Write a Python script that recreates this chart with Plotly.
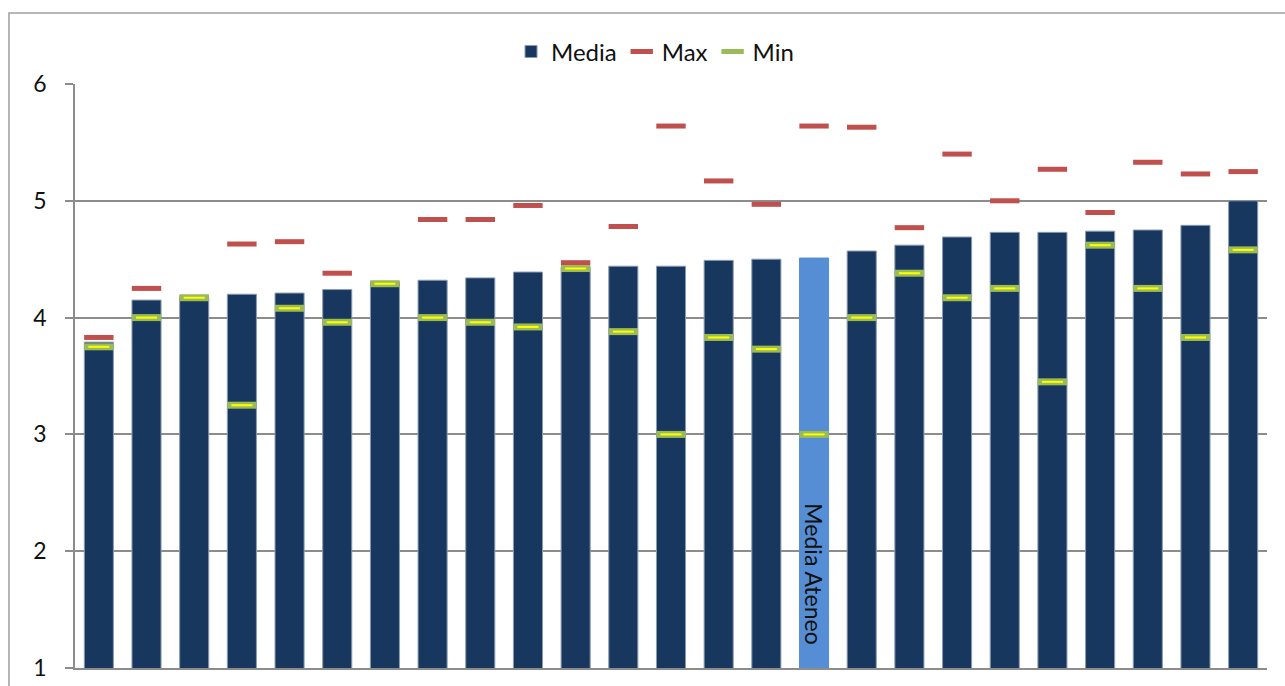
import plotly.graph_objects as go

categories = [f"C{i}" for i in range(1, 26)]
media = [3.79, 4.15, 4.17, 4.20, 4.21, 4.24, 4.29, 4.32, 4.34, 4.39, 4.43, 4.44, 4.44,
         4.49, 4.50, 4.51, 4.57, 4.62, 4.69, 4.73, 4.73, 4.74, 4.75, 4.79, 5.00]
max_vals = [3.83, 4.25, 4.17, 4.63, 4.65, 4.38, 4.29, 4.84, 4.84, 4.96, 4.47, 4.78, 5.64,
            5.17, 4.97, 5.64, 5.63, 4.77, 5.40, 5.00, 5.27, 4.90, 5.33, 5.23, 5.25]
min_vals = [3.75, 4.00, 4.17, 3.25, 4.08, 3.96, 4.29, 4.00, 3.96, 3.92, 4.42, 3.88, 3.00,
            3.83, 3.73, 3.00, 4.00, 4.38, 4.17, 4.25, 3.45, 4.62, 4.25, 3.83, 4.58]
highlight_index = 15
highlight_label = "Media Ateneo"
y_ticks = [1, 2, 3, 4, 5, 6]

bar_colors = ["#17375E"] * len(categories)
bar_colors[highlight_index] = "#558ED5"
line_colors = ["#8A9BB2"] * len(categories)
line_colors[highlight_index] = "#558ED5"

FONT = "Lato"
GRID = "#8C8C8C"

fig = go.Figure()
fig.add_trace(go.Bar(
    x=categories, y=media, name="Media",
    marker=dict(color=bar_colors, line=dict(color=line_colors, width=1)),
))
fig.add_trace(go.Scatter(
    x=categories, y=max_vals, name="Max", mode="markers",
    marker=dict(symbol="line-ew", size=21, line=dict(color="#C0504D", width=5)),
))
fig.add_trace(go.Scatter(
    x=categories, y=min_vals, name="Min", mode="markers",
    marker=dict(symbol="line-ew", size=21, line=dict(color="#9BBB59", width=7)),
))
fig.add_trace(go.Scatter(
    x=categories, y=min_vals, name="Min", mode="markers", showlegend=False,
    marker=dict(symbol="line-ew", size=15, line=dict(color="#FFFF00", width=2)),
))

fig.add_annotation(
    x=categories[highlight_index], y=1.81, text=highlight_label, textangle=90,
    showarrow=False, font=dict(family=FONT, size=23, color="#111111"),
)

fig.add_shape(
    type="rect", xref="paper", yref="paper",
    x0=-0.0554, x1=1.03, y0=-0.05, y1=1.1216,
    line=dict(color="#A0A0A0", width=1.5), fillcolor="rgba(0,0,0,0)", layer="below",
)

fig.update_layout(
    width=1285, height=686,
    margin=dict(l=75, r=18, t=84, b=18, autoexpand=False),
    paper_bgcolor="white", plot_bgcolor="white",
    bargap=0.39,
    showlegend=True,
    legend=dict(
        orientation="h", x=0.4866, xanchor="center", y=1.055, yanchor="middle",
        font=dict(family=FONT, size=24, color="#111111"),
        bgcolor="rgba(0,0,0,0)", itemwidth=30, tracegroupgap=0,
    ),
    font=dict(family=FONT, color="#111111"),
)
fig.update_xaxes(
    range=[-0.5, len(categories) - 0.5], automargin=False,
    showticklabels=False, showgrid=False, showline=True, linecolor=GRID,
    linewidth=1.5, ticks="", zeroline=False,
)
fig.update_yaxes(
    range=[1, 6], automargin=False, tickvals=y_ticks, ticktext=[str(v) for v in y_ticks],
    showgrid=True, gridcolor=GRID, gridwidth=1.5,
    showline=True, linecolor=GRID, linewidth=1.5,
    ticks="outside", ticklen=8, tickcolor=GRID, tickwidth=1.5,
    ticklabelstandoff=14, tickfont=dict(family=FONT, size=23, color="#111111"),
    zeroline=False,
)

fig.write_html("out.html")
